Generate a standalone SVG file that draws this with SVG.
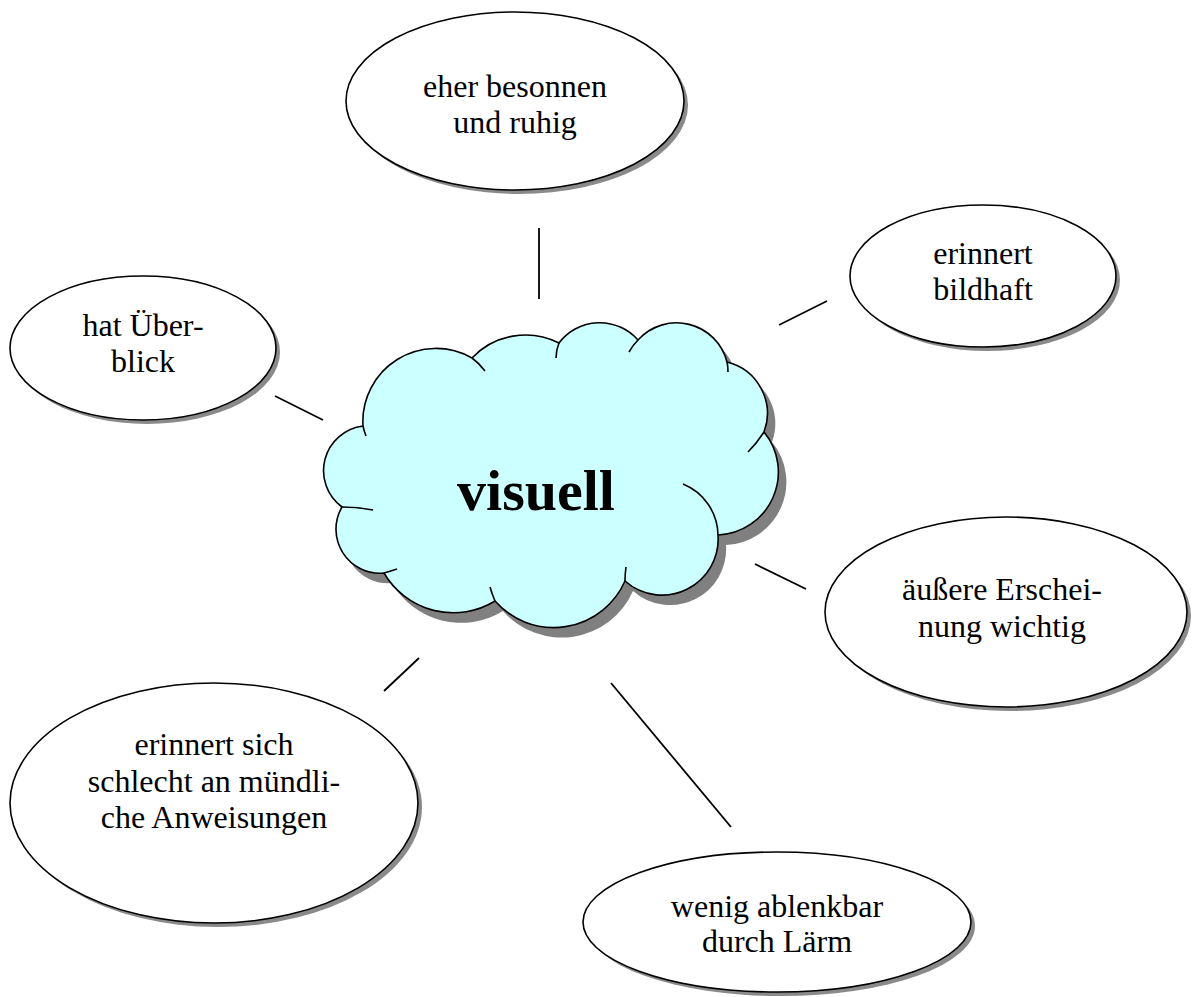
<svg xmlns="http://www.w3.org/2000/svg" width="1192" height="997" viewBox="0 0 1192 997">
<style>
.sh{fill:#8a8a8a;stroke:none}
.el{fill:#ffffff;stroke:#000;stroke-width:1.6}
.t{font-family:"Liberation Serif","Times New Roman",serif;font-size:32px;fill:#000;text-anchor:middle}
.c{stroke:#000;stroke-width:1.8;fill:none}
.tail{stroke:#000;stroke-width:1.6;fill:none}
</style>
<defs>
<path id="cloud" d="M363,426 A73,73 0 0 1 472,358 A74,74 0 0 1 559,343 A51,51 0 0 1 638,340 A52,52 0 0 1 727,362 A53,53 0 0 1 764,432 A63,63 0 0 1 718,535 A56,56 0 0 1 625,581 A78,78 0 0 1 495,601 A80,80 0 0 1 384,573 A44,44 0 0 1 342,507 A45,45 0 0 1 363,426 Z"/>
</defs>
<rect width="1192" height="997" fill="#fff"/>
<g id="connectors">
<line class="c" x1="539" y1="228" x2="539" y2="299"/>
<line class="c" x1="779" y1="325" x2="827" y2="301"/>
<line class="c" x1="275" y1="396" x2="323" y2="420"/>
<line class="c" x1="755" y1="564" x2="806" y2="589"/>
<line class="c" x1="384" y1="691" x2="419" y2="658"/>
<line class="c" x1="611" y1="683" x2="731" y2="827"/>
</g>
<g id="center">
<use href="#cloud" transform="translate(8,10)" fill="#808080"/>
<use href="#cloud" fill="#ccffff" stroke="#000" stroke-width="1.6"/>
<path class="tail" d="M363,426 Q364,431 366,436"/>
<path class="tail" d="M472,358 Q479,363 485,371"/>
<path class="tail" d="M559,343 Q556,350 556,358"/>
<path class="tail" d="M638,340 Q633,345 629,352"/>
<path class="tail" d="M727,362 Q728,366 728,372"/>
<path class="tail" d="M764,432 Q757,443 748,452"/>
<path class="tail" d="M683,484 A56,56 0 0 1 718,535"/>
<path class="tail" d="M625,581 Q625,574 626,567"/>
<path class="tail" d="M495,601 Q492,594 490,587"/>
<path class="tail" d="M384,573 Q391,571 397,569"/>
<path class="tail" d="M342,507 Q358,507 373,510"/>
<text x="536" y="510" font-family="Liberation Serif, Times New Roman, serif" font-size="58" font-weight="bold" text-anchor="middle">visuell</text>
</g>
<g id="n-besonnen">
<ellipse class="sh" cx="519" cy="105" rx="169" ry="89"/>
<ellipse class="el" cx="515" cy="101" rx="169" ry="89"/>
<text class="t" x="515" y="97">eher besonnen</text>
<text class="t" x="515" y="133">und ruhig</text>
</g>
<g id="n-bildhaft">
<ellipse class="sh" cx="987" cy="280" rx="133" ry="71"/>
<ellipse class="el" cx="983" cy="276" rx="133" ry="71"/>
<text class="t" x="983" y="264">erinnert</text>
<text class="t" x="983" y="300">bildhaft</text>
</g>
<g id="n-ueberblick">
<ellipse class="sh" cx="147" cy="352" rx="133" ry="72"/>
<ellipse class="el" cx="143" cy="348" rx="133" ry="72"/>
<text class="t" x="143" y="336">hat Über-</text>
<text class="t" x="143" y="372">blick</text>
</g>
<g id="n-erscheinung">
<ellipse class="sh" cx="1010" cy="616" rx="181" ry="95"/>
<ellipse class="el" cx="1006" cy="612" rx="181" ry="95"/>
<text class="t" x="1002" y="600">äußere Erschei-</text>
<text class="t" x="1002" y="637">nung wichtig</text>
</g>
<g id="n-muendlich">
<ellipse class="sh" cx="218" cy="807" rx="204" ry="120"/>
<ellipse class="el" cx="214" cy="803" rx="204" ry="120"/>
<text class="t" x="214" y="755">erinnert sich</text>
<text class="t" x="214" y="792">schlecht an mündli-</text>
<text class="t" x="214" y="828">che Anweisungen</text>
</g>
<g id="n-laerm">
<ellipse class="sh" cx="781" cy="926" rx="194" ry="70"/>
<ellipse class="el" cx="777" cy="922" rx="194" ry="70"/>
<text class="t" x="777" y="917">wenig ablenkbar</text>
<text class="t" x="777" y="952">durch Lärm</text>
</g>
</svg>
